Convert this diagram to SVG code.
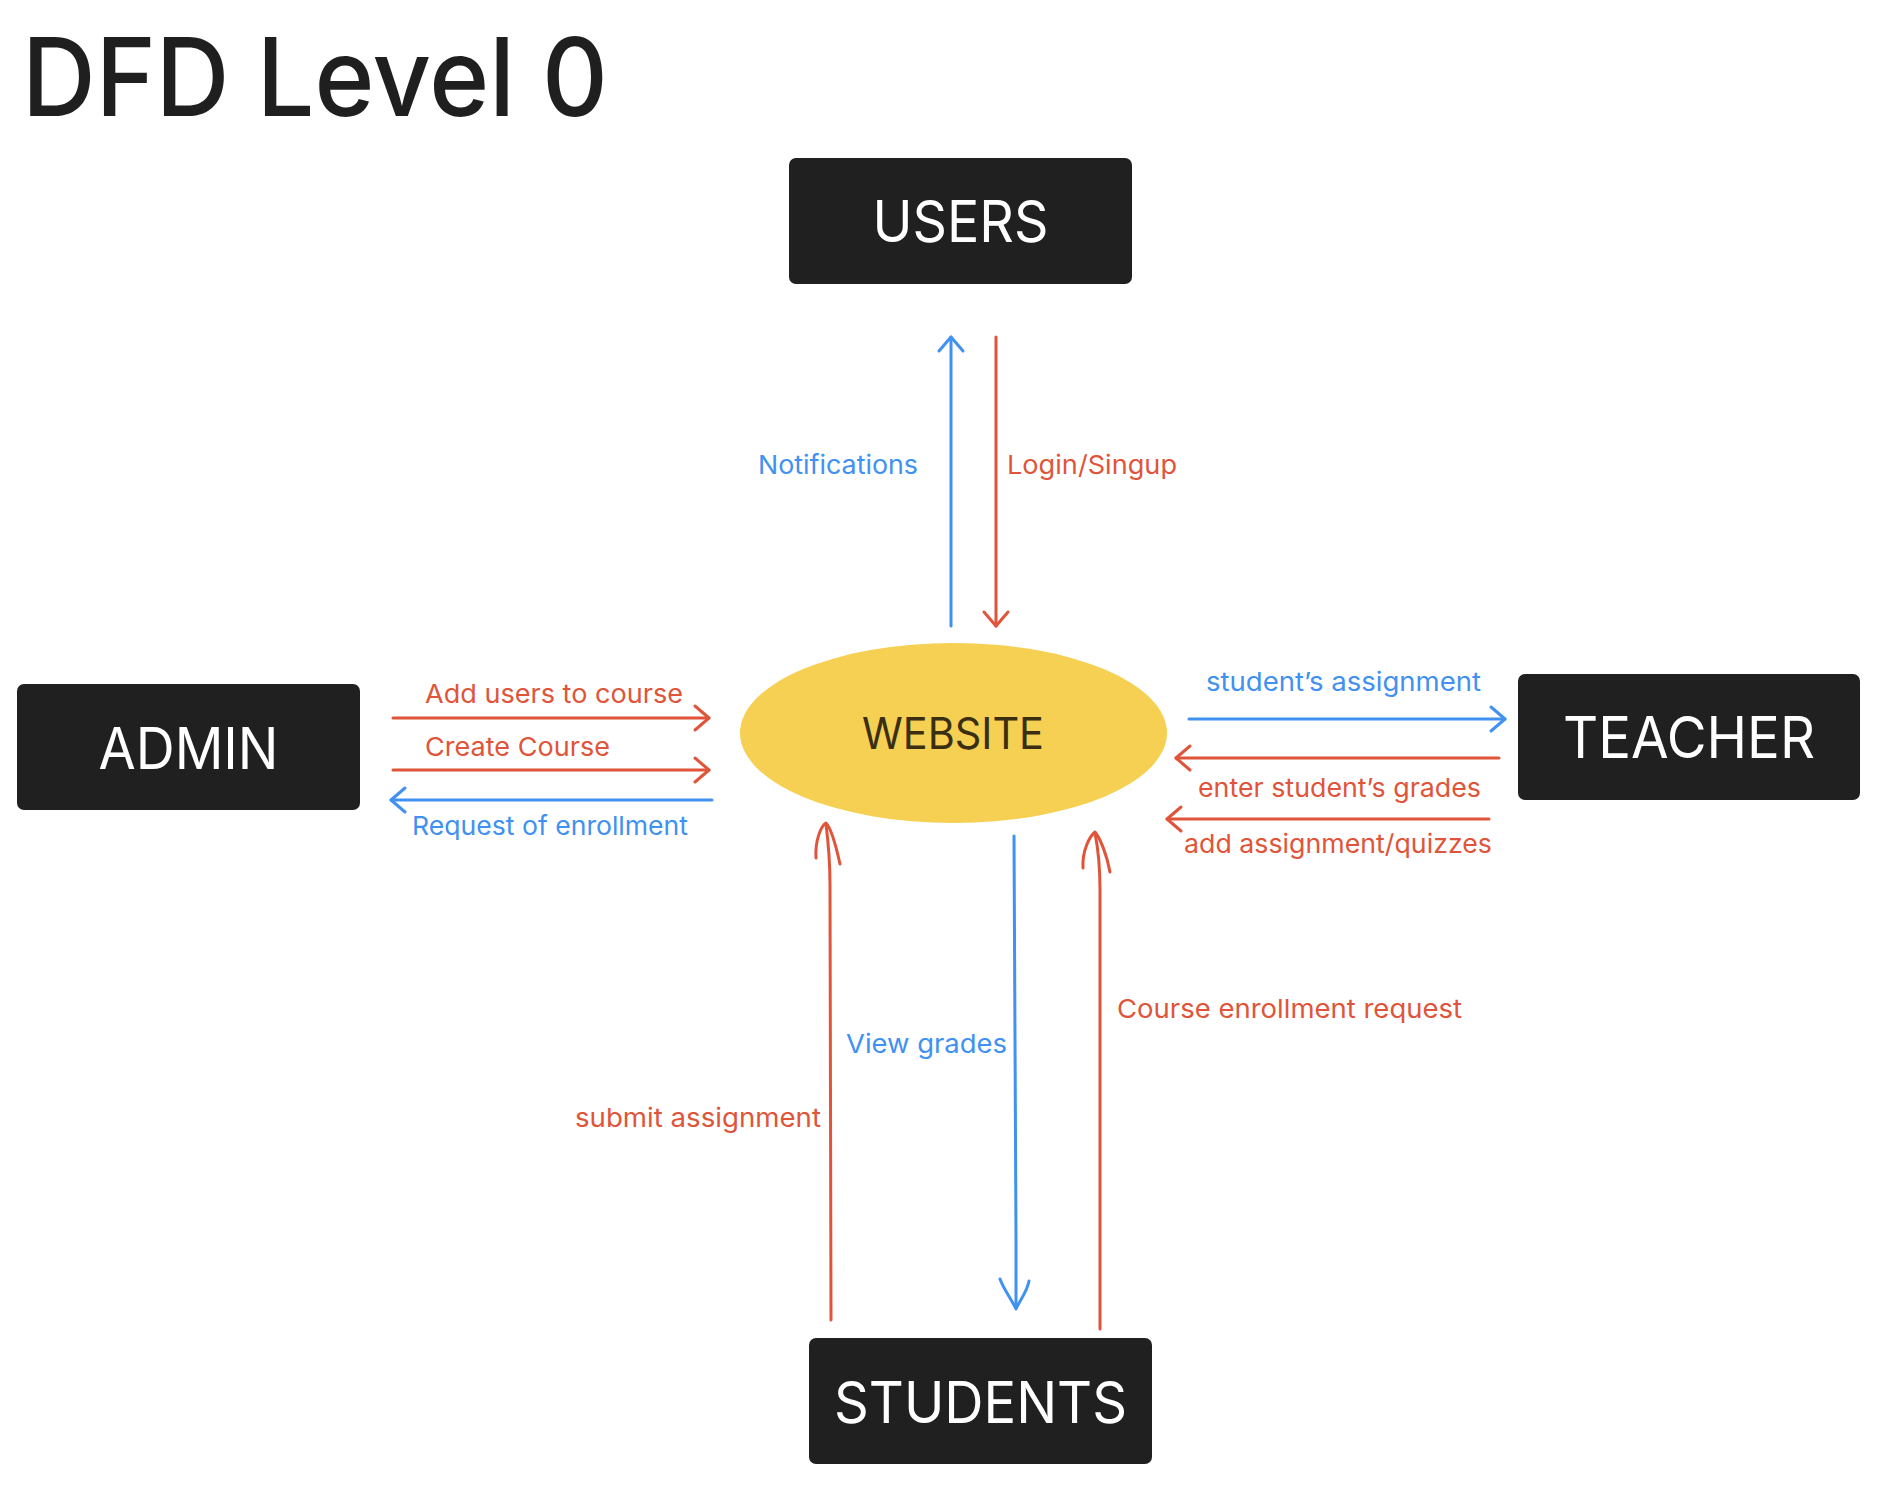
<svg xmlns="http://www.w3.org/2000/svg" width="1896" height="1510" viewBox="0 0 1896 1510">
  <style>
    text { font-family: Inter, "Liberation Sans", sans-serif; }
    .title { font-size: 108px; font-weight: 500; fill: #1f1f1f; }
    .box { fill: #202020; }
    .node-label { font-size: 57px; fill: #ffffff; text-anchor: middle; }
    .proc-label { font-size: 44px; fill: #3a2f12; text-anchor: middle; }
    .lbl { font-size: 26px; }
    .red { fill: #e0553a; }
    .blue { fill: #4091f2; }
    .flow { fill: none; stroke-width: 3; stroke-linecap: round; stroke-linejoin: round; }
    .flow-red { stroke: #e0553a; }
    .flow-blue { stroke: #4091f2; }
  </style>
  <defs>
    <marker id="headRed" viewBox="-18 -15 22 30" refX="0" refY="0" markerWidth="22" markerHeight="30" markerUnits="userSpaceOnUse" orient="auto">
      <path d="M-14,-12 L0,0 L-14,12" fill="none" stroke="#e0553a" stroke-width="3" stroke-linecap="round" stroke-linejoin="round"/>
    </marker>
    <marker id="headBlue" viewBox="-18 -15 22 30" refX="0" refY="0" markerWidth="22" markerHeight="30" markerUnits="userSpaceOnUse" orient="auto">
      <path d="M-14,-12 L0,0 L-14,12" fill="none" stroke="#4091f2" stroke-width="3" stroke-linecap="round" stroke-linejoin="round"/>
    </marker>
  </defs>

  <rect width="1896" height="1510" fill="#ffffff"/>

  <text class="title" x="22" y="116" textLength="586" lengthAdjust="spacingAndGlyphs">DFD Level 0</text>

  <!-- external entities -->
  <g id="users">
    <rect class="box" x="789" y="158" width="343" height="126" rx="7"/>
    <text class="node-label" x="960.5" y="242" textLength="176" lengthAdjust="spacingAndGlyphs">USERS</text>
  </g>
  <g id="admin">
    <rect class="box" x="17" y="684" width="343" height="126" rx="7"/>
    <text class="node-label" x="188.5" y="769" textLength="180" lengthAdjust="spacingAndGlyphs">ADMIN</text>
  </g>
  <g id="teacher">
    <rect class="box" x="1518" y="674" width="342" height="126" rx="7"/>
    <text class="node-label" x="1689" y="758" textLength="252" lengthAdjust="spacingAndGlyphs">TEACHER</text>
  </g>
  <g id="students">
    <rect class="box" x="809" y="1338" width="343" height="126" rx="7"/>
    <text class="node-label" x="980.5" y="1423" textLength="293" lengthAdjust="spacingAndGlyphs">STUDENTS</text>
  </g>

  <!-- central process -->
  <g id="website">
    <ellipse cx="953.5" cy="733" rx="213.5" ry="90" fill="#f6d052"/>
    <text class="proc-label" x="953" y="749" textLength="182" lengthAdjust="spacingAndGlyphs">WEBSITE</text>
  </g>

  <!-- data flows -->
  <g id="connectors">
    <!-- website <-> users -->
    <line class="flow flow-blue" x1="951" y1="626" x2="951" y2="337" marker-end="url(#headBlue)"/>
    <line class="flow flow-red" x1="996" y1="337" x2="996" y2="626" marker-end="url(#headRed)"/>
    <!-- admin <-> website -->
    <line class="flow flow-red" x1="393" y1="718" x2="709" y2="718" marker-end="url(#headRed)"/>
    <line class="flow flow-red" x1="393" y1="770" x2="709" y2="770" marker-end="url(#headRed)"/>
    <line class="flow flow-blue" x1="712" y1="800" x2="391" y2="800" marker-end="url(#headBlue)"/>
    <!-- website <-> teacher -->
    <line class="flow flow-blue" x1="1189" y1="719" x2="1505" y2="719" marker-end="url(#headBlue)"/>
    <line class="flow flow-red" x1="1499" y1="758" x2="1176" y2="758" marker-end="url(#headRed)"/>
    <line class="flow flow-red" x1="1489" y1="819" x2="1167" y2="819" marker-end="url(#headRed)"/>
    <!-- students <-> website (sketched heads) -->
    <path class="flow flow-red" d="M831,1320 L830,885 C830,860 828,840 826,824"/>
    <path class="flow flow-red" d="M816,858 C815,840 821,826 826,823 C831,828 836,846 840,864"/>
    <path class="flow flow-blue" d="M1014,836 L1016,1240 C1016,1270 1016,1290 1016,1308"/>
    <path class="flow flow-blue" d="M1000,1279 C1004,1290 1012,1300 1016,1309 C1020,1300 1027,1292 1029,1281"/>
    <path class="flow flow-red" d="M1100,1329 L1100,890 C1100,865 1098,848 1095,833"/>
    <path class="flow flow-red" d="M1083,868 C1082,850 1090,836 1095,832 C1100,838 1107,855 1110,872"/>
  </g>

  <!-- flow labels -->
  <g id="labels">
    <text class="lbl blue" x="758" y="474" textLength="160" lengthAdjust="spacingAndGlyphs">Notifications</text>
    <text class="lbl red" x="1007" y="474" textLength="170" lengthAdjust="spacingAndGlyphs">Login/Singup</text>
    <text class="lbl red" x="425" y="703" textLength="258" lengthAdjust="spacingAndGlyphs">Add users to course</text>
    <text class="lbl red" x="425" y="756" textLength="185" lengthAdjust="spacingAndGlyphs">Create Course</text>
    <text class="lbl blue" x="412" y="835" textLength="276" lengthAdjust="spacingAndGlyphs">Request of enrollment</text>
    <text class="lbl blue" x="1206" y="691" textLength="275" lengthAdjust="spacingAndGlyphs">student’s assignment</text>
    <text class="lbl red" x="1198" y="797" textLength="283" lengthAdjust="spacingAndGlyphs">enter student’s grades</text>
    <text class="lbl red" x="1184" y="853" textLength="308" lengthAdjust="spacingAndGlyphs">add assignment/quizzes</text>
    <text class="lbl blue" x="846" y="1053" textLength="161" lengthAdjust="spacingAndGlyphs">View grades</text>
    <text class="lbl red" x="1117" y="1018" textLength="345" lengthAdjust="spacingAndGlyphs">Course enrollment request</text>
    <text class="lbl red" x="575" y="1127" textLength="246" lengthAdjust="spacingAndGlyphs">submit assignment</text>
  </g>
</svg>
